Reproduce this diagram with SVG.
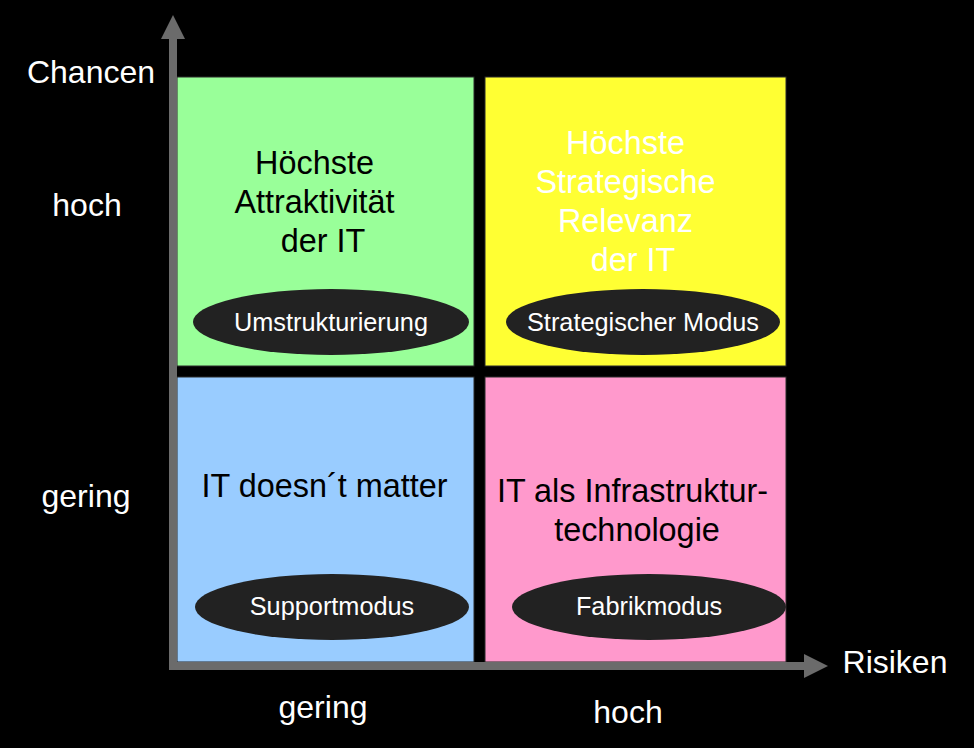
<svg xmlns="http://www.w3.org/2000/svg" width="974" height="748" viewBox="0 0 974 748">
  <style>
    .quad { stroke: #2a2a2a; stroke-width: 1; }
    .big { font-family: "Liberation Sans", Arial, sans-serif; font-size: 32.4px; text-anchor: middle; }
    .axis-label { font-family: "Liberation Sans", Arial, sans-serif; font-size: 32px; fill: #ffffff; text-anchor: middle; }
    .pill { fill: #222222; }
    .pill-text { font-family: "Liberation Sans", Arial, sans-serif; font-size: 25.3px; fill: #ffffff; text-anchor: middle; }
    .axis { fill: #6b6b6b; }
  </style>

  <rect x="0" y="0" width="974" height="748" fill="#000000"/>

  <!-- top-left quadrant -->
  <g id="q-attraktivitaet">
    <rect class="quad" x="177" y="77" width="297" height="289" fill="#99FF99"/>
    <text class="big" fill="#000000">
      <tspan x="319" y="174">Höchste</tspan>
      <tspan x="319" y="213">Attraktivität</tspan>
      <tspan x="323" y="252">der IT</tspan>
    </text>
    <ellipse class="pill" cx="331" cy="322" rx="138" ry="33"/>
    <text class="pill-text" x="331" y="331">Umstrukturierung</text>
  </g>

  <!-- top-right quadrant -->
  <g id="q-strategisch">
    <rect class="quad" x="485" y="77" width="301" height="289" fill="#FFFF33"/>
    <text class="big" fill="#ffffff">
      <tspan x="630" y="154">Höchste</tspan>
      <tspan x="630" y="193">Strategische</tspan>
      <tspan x="630" y="232">Relevanz</tspan>
      <tspan x="633" y="271">der IT</tspan>
    </text>
    <ellipse class="pill" cx="643" cy="322" rx="137" ry="33"/>
    <text class="pill-text" x="643" y="331">Strategischer Modus</text>
  </g>

  <!-- bottom-left quadrant -->
  <g id="q-support">
    <rect class="quad" x="177" y="377" width="297" height="285" fill="#99CCFF"/>
    <text class="big" fill="#000000" x="324.5" y="497">IT doesn´t matter</text>
    <ellipse class="pill" cx="332" cy="607" rx="137" ry="33"/>
    <text class="pill-text" x="332" y="615">Supportmodus</text>
  </g>

  <!-- bottom-right quadrant -->
  <g id="q-fabrik">
    <rect class="quad" x="485" y="377" width="301" height="285" fill="#FF99CC"/>
    <text class="big" fill="#000000">
      <tspan x="637" y="502">IT als Infrastruktur-</tspan>
      <tspan x="637" y="541">technologie</tspan>
    </text>
    <ellipse class="pill" cx="649" cy="607" rx="137" ry="33"/>
    <text class="pill-text" x="649" y="615">Fabrikmodus</text>
  </g>

  <!-- axes -->
  <g id="axes">
    <rect class="axis" x="169" y="38" width="8" height="632"/>
    <polygon class="axis" points="173,15 185,39 161,39"/>
    <rect class="axis" x="169" y="662" width="637" height="8"/>
    <polygon class="axis" points="828,666 804,654 804,678"/>
  </g>

  <!-- axis labels -->
  <g id="labels">
    <text class="axis-label" x="91" y="83">Chancen</text>
    <text class="axis-label" x="87" y="216">hoch</text>
    <text class="axis-label" x="86" y="507">gering</text>
    <text class="axis-label" x="323" y="718">gering</text>
    <text class="axis-label" x="628" y="723">hoch</text>
    <text class="axis-label" x="895" y="673">Risiken</text>
  </g>
</svg>
